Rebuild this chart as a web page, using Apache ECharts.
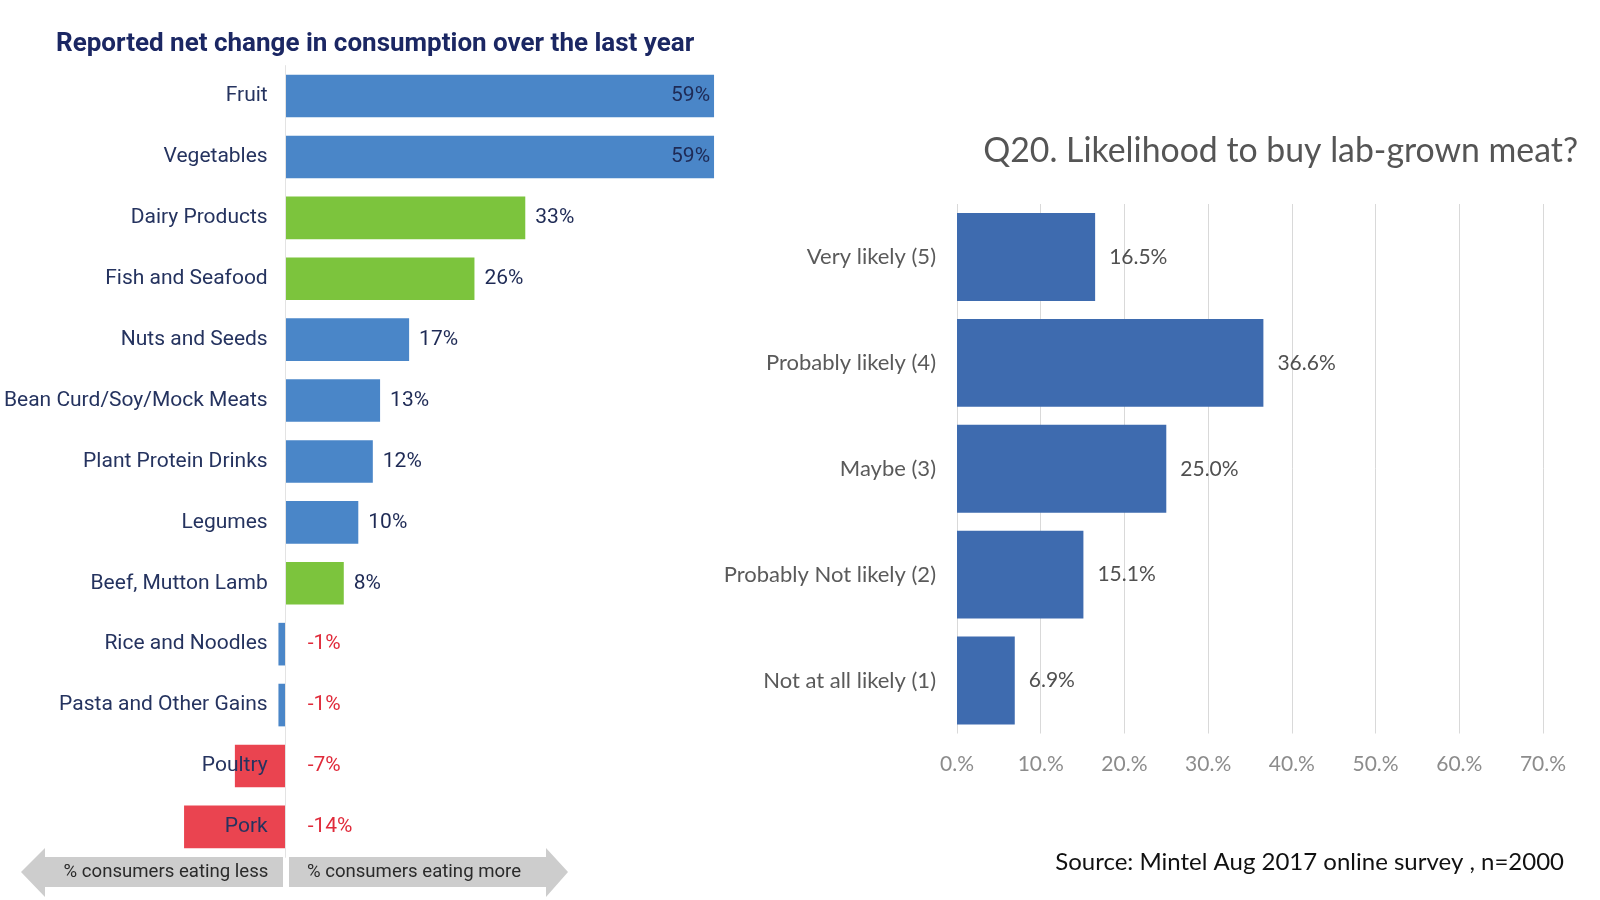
<!DOCTYPE html>
<html>
<head>
<meta charset="utf-8">
<script src="https://cdn.jsdelivr.net/npm/echarts@6/dist/echarts.min.js"></script>
<style>
html,body{margin:0;padding:0;background:#fff;}
#c{width:1600px;height:900px;}
</style>
</head>
<body>
<div id="c"></div>
<script>
// ---- Left chart data ----
var foodCategories = ['Fruit','Vegetables','Dairy Products','Fish and Seafood','Nuts and Seeds','Bean Curd/Soy/Mock Meats','Plant Protein Drinks','Legumes','Beef, Mutton Lamb','Rice and Noodles','Pasta and Other Gains','Poultry','Pork'];
var netChange = [59, 59, 33, 26, 17, 13, 12, 10, 8, -1, -1, -7, -14];
var foodGroup = ['blue','blue','green','green','blue','blue','blue','blue','green','blue','blue','red','red'];

// ---- Right chart data ----
var likelihoodCategories = ['Very likely (5)','Probably likely (4)','Maybe (3)','Probably Not likely (2)','Not at all likely (1)'];
var likelihoodValues = [16.5, 36.6, 25.0, 15.1, 6.9];
var likelihoodTickLabels = ['0.%','10.%','20.%','30.%','40.%','50.%','60.%','70.%'];

var groupColors = {blue:'#4a86c8', green:'#7cc43d', red:'#ea4450'};
var narrow = 'Roboto, "Liberation Sans", Arial, sans-serif';
var calib = 'Lato, "Open Sans", sans-serif';

var leftMin = -20, leftMax = 60;
var leftGridLeft = 140.5, leftGridWidth = 580.8;
var zeroOffset = leftGridWidth * (0 - leftMin) / (leftMax - leftMin);

var leftData = netChange.map(function(v, i){
  var lab;
  if (v >= 50) {
    lab = {show:true, position:'insideRight', distance:4, color:'#1e2a55'};
  } else if (v >= 0) {
    lab = {show:true, position:'right', distance:10, color:'#1e2a55'};
  } else {
    lab = {show:true, position:'right', distance:22, color:'#e02a3a'};
  }
  lab.fontSize = 21; lab.fontFamily = narrow; lab.formatter = '{c}%';
  return {value:v, itemStyle:{color:groupColors[foodGroup[i]]}, label:lab};
});

var chart = echarts.init(document.getElementById('c'), null, {renderer:'canvas'});
chart.setOption({
  backgroundColor:'#ffffff',
  animation:false,
  title:[
    {text:'Reported net change in consumption over the last year', left:51, top:26,
     textStyle:{fontFamily:narrow, fontWeight:'bold', fontSize:26, color:'#1b2763'}},
    {text:'Q20. Likelihood to buy lab-grown meat?', right:17, top:129,
     textStyle:{fontFamily:calib, fontWeight:'normal', fontSize:33.8, color:'#555555'}}
  ],
  grid:[
    {left:leftGridLeft, width:leftGridWidth, top:65.6, height:791.7, containLabel:false, outerBoundsMode:'none'},
    {left:957, width:586, top:204, height:529.5, containLabel:false, outerBoundsMode:'none'}
  ],
  xAxis:[
    {gridIndex:0, type:'value', min:leftMin, max:leftMax, show:false},
    {gridIndex:1, type:'value', min:0, max:70, interval:10,
     axisLine:{show:false}, axisTick:{show:false},
     splitLine:{show:true, lineStyle:{color:'#d9d9d9', width:1}},
     axisLabel:{margin:20, fontSize:21, fontFamily:calib, color:'#8c8c8c',
       formatter:function(v){return likelihoodTickLabels[Math.round(v/10)];}}}
  ],
  yAxis:[
    {gridIndex:0, type:'category', inverse:true, data:foodCategories,
     offset:-zeroOffset, z:10,
     axisLine:{show:true, onZero:false, lineStyle:{color:'#e3e3e3', width:1}},
     axisTick:{show:false},
     axisLabel:{margin:18, fontSize:21, fontFamily:narrow, color:'#25335f'}},
    {gridIndex:1, type:'category', inverse:true, data:likelihoodCategories,
     axisLine:{show:false}, axisTick:{show:false},
     axisLabel:{margin:21, fontSize:22, fontFamily:calib, color:'#5a5a5a'}}
  ],
  series:[
    {type:'bar', xAxisIndex:0, yAxisIndex:0, data:leftData, barCategoryGap:'30%', z:1},
    {type:'bar', xAxisIndex:1, yAxisIndex:1, data:likelihoodValues, barCategoryGap:'17%',
     itemStyle:{color:'#3e6baf'},
     label:{show:true, position:'right', distance:14, fontSize:21, fontFamily:calib, color:'#505050',
       formatter:function(p){return p.value.toFixed(1)+'%';}}}
  ],
  graphic:[
    {type:'polygon', z:-1, shape:{points:[[21,872],[45,848],[45,857],[283,857],[283,887],[45,887],[45,897],[21,872]]}, style:{fill:'#cdcdcd'}},
    {type:'polygon', z:-1, shape:{points:[[289,857],[546,857],[546,848],[568,872],[546,897],[546,887],[289,887]]}, style:{fill:'#cdcdcd'}},
    {type:'text', z:5, style:{text:'% consumers eating less', x:166, y:872, align:'center', verticalAlign:'middle', font:'18.6px '+narrow, fill:'#2a2a2a'}},
    {type:'text', z:5, style:{text:'% consumers eating more', x:414, y:872, align:'center', verticalAlign:'middle', font:'18.6px '+narrow, fill:'#2a2a2a'}},
    {type:'text', z:5, style:{text:'Source: Mintel Aug 2017 online survey , n=2000', x:1564, y:862, align:'right', verticalAlign:'middle', font:'24px '+calib, fill:'#111111'}}
  ]
});
</script>
</body>
</html>
